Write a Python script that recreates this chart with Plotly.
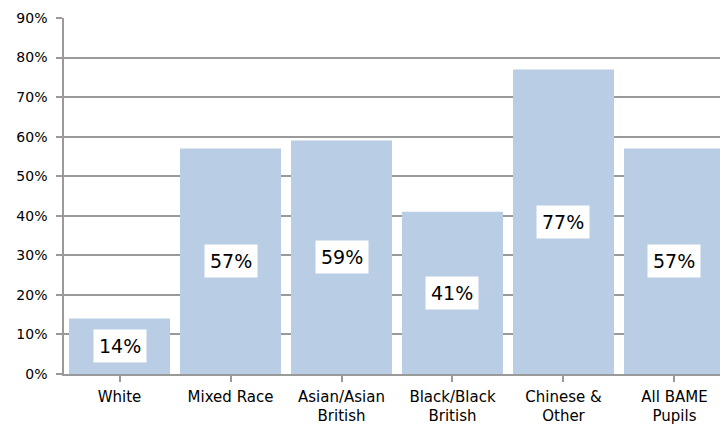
import plotly.graph_objects as go

categories = ["White", "Mixed Race", "Asian/Asian<br>British", "Black/Black<br>British",
              "Chinese &<br>Other", "All BAME<br>Pupils"]
values = [0.14, 0.57, 0.59, 0.41, 0.77, 0.57]
labels = ["14%", "57%", "59%", "41%", "77%", "57%"]

bar_color = "#B9CDE4"
grid_color = "#9A9A9A"
font_family = "DejaVu Sans, Verdana, sans-serif"

fig = go.Figure()
fig.add_trace(go.Bar(
    x=list(range(len(categories))),
    y=values,
    marker=dict(color=bar_color, line=dict(width=0)),
    width=0.91,
    hoverinfo="skip",
))

# white value boxes in the middle of each bar
for i, (v, t) in enumerate(zip(values, labels)):
    fig.add_annotation(
        x=i, y=v / 2, text=t, showarrow=False,
        font=dict(family=font_family, size=19, color="#000000"),
        bgcolor="#FFFFFF", borderpad=5,
    )

fig.update_layout(
    width=720, height=427,
    margin=dict(l=64, r=0, t=18, b=53),
    paper_bgcolor="#FFFFFF", plot_bgcolor="#FFFFFF",
    showlegend=False,
    bargap=0.09,
    font=dict(family=font_family, size=14, color="#000000"),
)
fig.update_xaxes(
    range=[-0.5, 5.41],
    tickmode="array",
    tickvals=list(range(len(categories))),
    ticktext=categories,
    tickson="boundaries",
    ticks="outside", ticklen=6, tickcolor=grid_color, tickwidth=1.5,
    showline=True, linecolor=grid_color, linewidth=1.5,
    showgrid=False,
    tickfont=dict(family=font_family, size=15),
    ticklabelstandoff=2,
    automargin=False,
    fixedrange=True,
)
fig.update_yaxes(
    range=[0, 0.9],
    dtick=0.1, tickformat=".0%",
    ticks="outside", ticklen=6, tickcolor=grid_color, tickwidth=1.5,
    showline=True, linecolor=grid_color, linewidth=1.5,
    showgrid=True, gridcolor=grid_color, gridwidth=1.5,
    zeroline=False,
    tickfont=dict(family=font_family, size=14),
    ticklabelstandoff=6,
    automargin=False,
    fixedrange=True,
)

fig.write_html("out.html")
